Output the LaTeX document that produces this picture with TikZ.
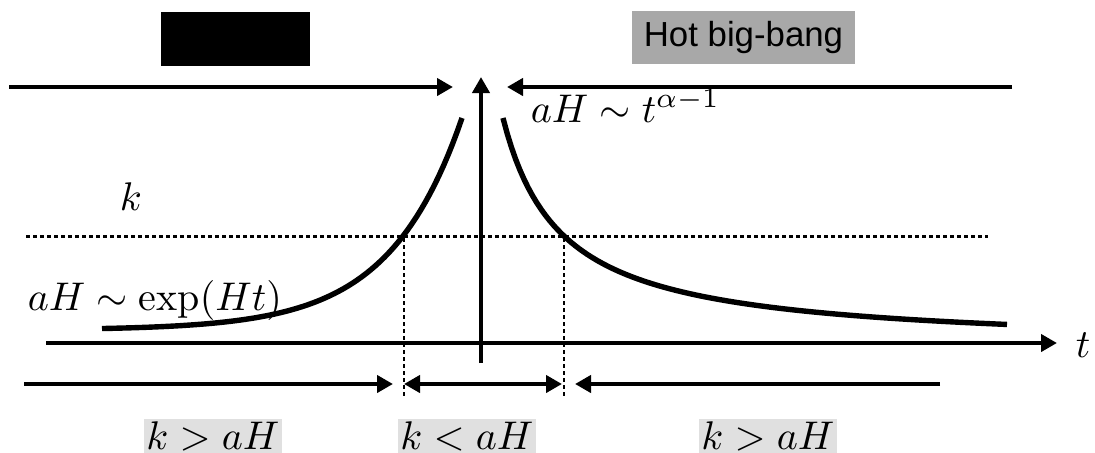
\documentclass[tikz,border=0pt]{standalone}
\usepackage{fontspec}
\newfontfamily\arialfont{Liberation Sans}
\usetikzlibrary{arrows.meta}
\definecolor{boxgray}{rgb}{0.66,0.66,0.66}
\definecolor{lblgray}{rgb}{0.88,0.88,0.88}
\begin{document}
\begin{tikzpicture}[x=0.25pt,y=-0.25pt,
  bigline/.style={line width=1.2pt},
  tipped/.style={bigline,-{Triangle[length=4pt,width=4.25pt]}},
  dtipped/.style={bigline,{Triangle[length=4pt,width=4.25pt]}-{Triangle[length=4pt,width=4.25pt]}},
  curve/.style={line width=1.35pt},
  kline/.style={line width=0.75pt,dash pattern=on 1pt off 0.75pt},
  guide/.style={line width=0.3pt,dash pattern=on 1pt off 0.75pt},
  mathlbl/.style={inner sep=0pt,font=\fontsize{10}{12}\selectfont},
  rangelbl/.style={mathlbl,fill=lblgray,inner sep=0.5pt}]
\useasboundingbox (0,0) rectangle (1095,452);
% header boxes
\fill[black] (161,12) rectangle (310,66);
\node[fill=boxgray,minimum width=55.75pt,minimum height=13.25pt,inner sep=0pt,
  font=\arialfont\fontsize{8.7}{10}\selectfont] (hot) at (743.5,37) {Hot big-bang};
% top arrows
\coordinate (tlA) at (9,87);
\coordinate (tlB) at (453,87);
\coordinate (trA) at (1012,87);
\coordinate (trB) at (507,87);
\draw[tipped] (tlA) -- (tlB);
\draw[tipped] (trA) -- (trB);
% vertical arrow
\coordinate (vB) at (481,363);
\coordinate (vT) at (481,77);
\draw[tipped] (vB) -- (vT);
% time axis
\coordinate (axA) at (46,343);
\coordinate (axB) at (1057,343);
\draw[tipped] (axA) -- (axB);
\node[mathlbl] (t) at (1083,345) {$t$};
% k line
\coordinate (kA) at (26,236);
\coordinate (kB) at (988,236);
\draw[kline] (kA) -- (kB);
\node[mathlbl] (k) at (131,197) {$k$};
% curves
\draw[curve] plot[domain=102:462,samples=80] (\x,{330-212*exp(0.0138*(\x-462))});
\draw[curve] plot[domain=503:1007,samples=120] (\x,{348.2-13351/(\x-445)});
\node[mathlbl,anchor=west] (expl) at (27,300) {$aH\sim\exp(Ht)$};
\node[mathlbl,anchor=west] (powl) at (530,106) {$aH\sim t^{\alpha-1}$};
% guides
\coordinate (g1T) at (404,238);
\coordinate (g1B) at (404,397);
\coordinate (g2T) at (564,238);
\coordinate (g2B) at (564,397);
\draw[guide] (g1T) -- (g1B);
\draw[guide] (g2T) -- (g2B);
% bottom arrows
\coordinate (b1A) at (24,384);
\coordinate (b1B) at (393,384);
\coordinate (b2A) at (404,384);
\coordinate (b2B) at (562,384);
\coordinate (b3A) at (940,384);
\coordinate (b3B) at (575,384);
\draw[tipped] (b1A) -- (b1B);
\draw[dtipped] (b2A) -- (b2B);
\draw[tipped] (b3A) -- (b3B);
% range labels
\node[rangelbl] (r1) at (213,436) {$k>aH$};
\node[rangelbl] (r2) at (467,436) {$k<aH$};
\node[rangelbl] (r3) at (768,436) {$k>aH$};
\end{tikzpicture}
\end{document}
